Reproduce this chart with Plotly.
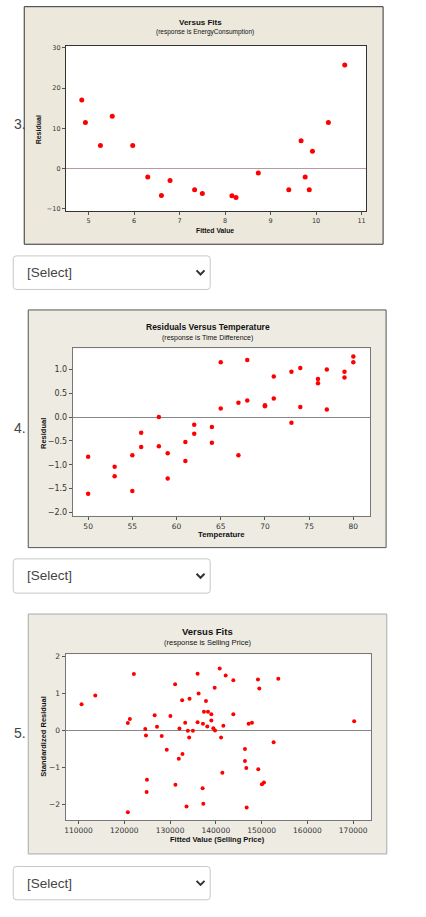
import plotly.graph_objects as go

W = 426
H = 917

# panel 3: residuals vs fits (EnergyConsumption)
fits_energy = [4.85, 4.93, 5.26, 5.52, 5.97, 6.30, 6.60, 6.79, 7.33, 7.50,
               8.15, 8.24, 8.73, 9.40, 9.67, 9.76, 9.85, 9.92, 10.27, 10.63]
resid_energy = [17.0, 11.4, 5.7, 13.0, 5.7, -2.1, -6.7, -3.0, -5.3, -6.2,
                -6.8, -7.2, -1.1, -5.3, 6.9, -2.1, -5.3, 4.3, 11.4, 25.7]

# panel 4: residuals vs temperature (Time Difference)
temperature = [50, 50, 53, 53, 55, 55, 56, 56, 58, 58, 59, 59, 61, 61, 62, 62, 64, 64, 65, 65,
               67, 67, 68, 68, 70, 70, 71, 71, 73, 73, 74, 74, 76, 76, 77, 77, 79, 79, 80, 80]
resid_temp = [-0.83, -1.61, -1.04, -1.24, -0.80, -1.55, -0.33, -0.63, 0.0, -0.61,
              -0.76, -1.29, -0.52, -0.92, -0.16, -0.35, -0.21, -0.54, 1.15, 0.18,
              0.30, -0.80, 1.20, 0.35, 0.25, 0.23, 0.85, 0.39, 0.95, -0.12,
              1.03, 0.21, 0.80, 0.71, 1.00, 0.16, 0.95, 0.83, 1.27, 1.15]

# panel 5: standardized residuals vs fits (Selling Price)
fits_price = [110660, 113660, 120770, 121210, 122090, 120770, 124580, 124730, 124950, 124870,
              126630, 127140, 128170, 129270, 130070, 131100, 131170, 131900, 132050, 132640,
              132710, 133300, 133590, 133880, 134170, 134250, 134980, 136010, 136010, 136230,
              137110, 137180, 137260, 137400, 137840, 138130, 138280, 139010, 139010, 139450,
              139740, 139820, 140840, 141140, 142150, 143820, 143820, 141640, 147160, 147890,
              149200, 149490, 153640, 170220, 152620, 146360, 146360, 146650, 141420, 149270,
              150070, 150510, 146730]
std_resid = [0.71, 0.95, 0.20, 0.31, 1.53, -2.22, 0.04, -0.14, -1.34, -1.67,
             0.41, 0.10, -0.15, -0.52, 0.39, 1.25, -1.47, -0.77, 0.05, 0.82,
             -0.64, 0.21, -2.06, -0.01, -0.19, 0.86, -0.01, 1.54, 0.22, 1.00,
             -1.57, 0.18, -1.99, 0.51, 0.80, 0.11, 0.51, 0.44, 0.27, 0.06,
             1.16, 0.00, 1.68, -0.19, 1.49, 1.36, 0.44, 0.13, 0.18, 0.21,
             1.38, 1.14, 1.40, 0.25, -0.32, -0.50, -0.83, -1.02, -1.15, -1.05,
             -1.46, -1.41, -2.09]

ticks_energy = [5, 6, 7, 8, 9, 10, 11]
ticks_temp = [50, 55, 60, 65, 70, 75, 80]
ticks_price = [110000, 120000, 130000, 140000, 150000, 160000, 170000]


def px(x):
    return x / W


def py(y):
    return 1 - y / H


FONT = "DejaVu Sans"
TFONT = "Liberation Sans"

fig = go.Figure()

fig.add_trace(go.Scatter(x=fits_energy, y=resid_energy, mode="markers",
                         marker=dict(color="#ff0000", size=5), xaxis="x", yaxis="y"))
fig.add_trace(go.Scatter(x=temperature, y=resid_temp, mode="markers",
                         marker=dict(color="#ff0000", size=4.5), xaxis="x2", yaxis="y2"))
fig.add_trace(go.Scatter(x=fits_price, y=std_resid, mode="markers",
                         marker=dict(color="#ff0000", size=4), xaxis="x3", yaxis="y3"))


def ax(domain, rng, tickvals, size, linecolor, anchor, zl=False, zlc="#888"):
    return dict(domain=domain, range=rng, tickvals=tickvals, showgrid=False,
                zeroline=zl, zerolinecolor=zlc, zerolinewidth=1,
                showline=True, mirror=True, linecolor=linecolor, linewidth=1,
                ticks="outside", ticklen=3, tickcolor="#555", anchor=anchor,
                tickfont=dict(family=FONT, size=size, color="#333"))


fig.update_layout(
    width=W, height=H, margin=dict(l=0, r=0, t=0, b=0),
    paper_bgcolor="white", plot_bgcolor="white", showlegend=False,
    xaxis=ax([px(65), px(366)], [4.5, 11.1], ticks_energy, 6.5, "#333", "y"),
    yaxis=ax([py(210), py(44)], [-10.6, 30.5], [-10, 0, 10, 20, 30], 6.5, "#333", "x",
             zl=True, zlc="#b89aa4"),
    xaxis2=ax([px(72), px(370)], [48.27, 81.9], ticks_temp, 7.5, "#777", "y2"),
    yaxis2=ax([py(516), py(348)], [-2.07, 1.44], [-2.0, -1.5, -1.0, -0.5, 0.0, 0.5, 1.0],
              8, "#777", "x2", zl=True, zlc="#888"),
    xaxis3=ax([px(64.7), px(370.7)], [107160, 173860], ticks_price, 7.5, "#777", "y3"),
    yaxis3=ax([py(822), py(655)], [-2.44, 2.07], [-2, -1, 0, 1, 2], 7.5, "#777", "x3",
              zl=True, zlc="#888"),
)
fig.update_layout(yaxis2=dict(tickformat=".1f"), xaxis3=dict(tickformat="d"))

shapes = []
# panel backgrounds and white plot areas
panels = [
    ((23.3, 4.7, 383, 243.3), "#ece8dc", "#333", (65, 44, 366, 210)),
    ((27.3, 309.3, 386, 548), "#eeebe3", "#555", (72, 348, 370, 516)),
    ((27.3, 614.7, 386.7, 855.7), "#eeebe3", "#aaa", (64.7, 655, 370.7, 822)),
]
for (x0, y0, x1, y1), fill, line, (a0, b0, a1, b1) in panels:
    shapes.append(dict(type="rect", xref="paper", yref="paper", layer="below",
                       x0=px(x0), x1=px(x1), y0=py(y1), y1=py(y0),
                       fillcolor=fill, line=dict(color=line, width=1)))
    shapes.append(dict(type="rect", xref="paper", yref="paper", layer="below",
                       x0=px(a0), x1=px(a1), y0=py(b1), y1=py(b0),
                       fillcolor="white", line=dict(width=0)))

# dropdown boxes
annotations = []
for top, bot in [(255, 288.7), (559.3, 593.7), (868.3, 901.7)]:
    r = 3
    x0, x1 = 12.3, 209.7
    path = (f"M {px(x0 + r)},{py(top)} L {px(x1 - r)},{py(top)} "
            f"Q {px(x1)},{py(top)} {px(x1)},{py(top + r)} L {px(x1)},{py(bot - r)} "
            f"Q {px(x1)},{py(bot)} {px(x1 - r)},{py(bot)} L {px(x0 + r)},{py(bot)} "
            f"Q {px(x0)},{py(bot)} {px(x0)},{py(bot - r)} L {px(x0)},{py(top + r)} "
            f"Q {px(x0)},{py(top)} {px(x0 + r)},{py(top)} Z")
    shapes.append(dict(type="path", xref="paper", yref="paper", path=path,
                       fillcolor="white", line=dict(color="#c8c8c8", width=1)))
    mid = (top + bot) / 2
    shapes.append(dict(type="path", xref="paper", yref="paper",
                       path=f"M {px(196)},{py(mid - 2.3)} L {px(200)},{py(mid + 1.8)} L {px(204)},{py(mid - 2.3)}",
                       line=dict(color="#333", width=2)))
    annotations.append(dict(text="[Select]", x=px(24), y=py(mid), xanchor="left", yanchor="middle",
                            font=dict(family=TFONT, size=13.5, color="#444")))

# question numbers
for label, yy in [("3.", 123), ("4.", 428), ("5.", 734)]:
    annotations.append(dict(text=label, x=px(11), y=py(yy), xanchor="left", yanchor="middle",
                            font=dict(family=TFONT, size=14, color="#444")))


def txt(text, x, y, size, bold=False, angle=0, fam=TFONT):
    if bold:
        text = "<b>" + text + "</b>"
    annotations.append(dict(text=text, x=px(x), y=py(y), xanchor="center", yanchor="middle",
                            textangle=angle, font=dict(family=fam, size=size, color="#111")))


# panel 3 titles
txt("Versus Fits", 200, 20.5, 8, bold=True)
txt("(response is EnergyConsumption)", 204, 30.5, 6.5)
txt("Fitted Value", 215, 229, 6.8, bold=True)
txt("Residual", 38, 128, 7, bold=True, angle=-90)
# panel 4 titles
txt("Residuals Versus Temperature", 207, 326, 8.5, bold=True)
txt("(response is Time Difference)", 207, 337.5, 7)
txt("Temperature", 221, 535, 7.8, bold=True)
txt("Residual", 42, 433, 7.5, bold=True, angle=-90)
# panel 5 titles
txt("Versus Fits", 207, 632, 9.5, bold=True)
txt("(response is Selling Price)", 207, 643.5, 7.5)
txt("Fitted Value (Selling Price)", 217, 841, 7.5, bold=True)
txt("Standardized Residual", 43, 738, 7.5, bold=True, angle=-90)

for a in annotations:
    a.update(xref="paper", yref="paper", showarrow=False)

fig.update_layout(shapes=shapes, annotations=annotations)

fig.write_html("out.html", config={"displayModeBar": False},
               post_script="document.body.style.margin='0';")
